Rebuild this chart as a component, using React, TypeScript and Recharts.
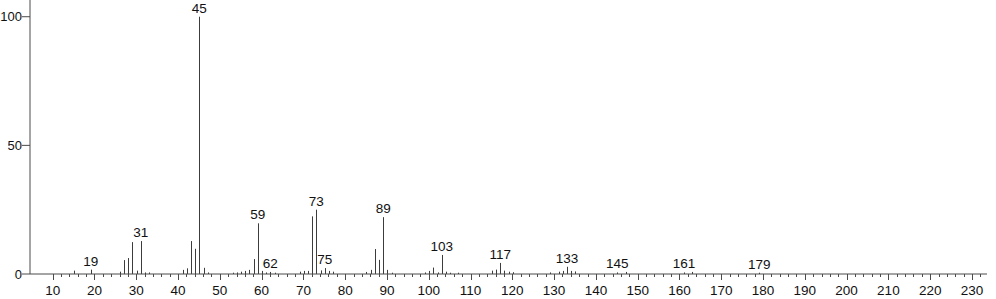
import { BarChart, Bar, XAxis, YAxis, LabelList } from 'recharts'

// m/z of each peak and its relative intensity (%)
const mz = [
  15, 19, 26, 27, 28, 29, 30, 31, 32, 33,
  41, 42, 43, 44, 45, 46, 47, 53, 54, 55,
  56, 57, 58, 59, 60, 61, 62, 63, 69, 70,
  71, 72, 73, 74, 75, 76, 77, 85, 86, 87,
  88, 89, 90, 91, 99, 100, 101, 102, 103, 104,
  105, 107, 115, 116, 117, 118, 119, 120, 129, 131,
  132, 133, 134, 135, 145, 147, 161, 163, 179,
]
const intensity = [
  1.3, 1.7, 0.9, 5.4, 6.2, 12.4, 1.3, 12.8, 0.6, 0.6,
  1.6, 2.2, 12.8, 9.8, 100, 2.4, 0.6, 0.5, 0.6, 0.9,
  1.2, 1.6, 5.8, 19.7, 1.2, 0.6, 0.8, 0.5, 0.9, 1.2,
  1.2, 22.4, 25.0, 1.4, 2.3, 1.2, 0.9, 0.8, 1.6, 9.7,
  5.5, 22.1, 1.6, 0.5, 0.6, 1.2, 2.5, 0.6, 7.4, 0.9,
  0.5, 0.5, 1.3, 1.7, 4.3, 1.3, 0.9, 0.7, 0.6, 0.9,
  1.2, 2.8, 1.2, 1.0, 0.6, 0.8, 0.6, 0.8, 0.5,
]
const labelled = [19, 31, 45, 59, 62, 73, 75, 89, 103, 117, 133, 145, 161, 179]

const majorTicks = [10, 20, 30, 40, 50, 60, 70, 80, 90, 100, 110, 120, 130, 140, 150, 160, 170, 180, 190, 200, 210, 220, 230]
const minorStep = 2
const yTicks = [0, 50, 100]

const data = mz.map((m, i) => ({ mz: m, value: intensity[i], label: labelled.includes(m) ? String(m) : '' }))
const allTicks: number[] = []
for (let t = majorTicks[0]; t <= majorTicks[majorTicks.length - 1] + minorStep; t += minorStep) allTicks.push(t)

const FONT = '"Liberation Sans", Arial, sans-serif'
const FS = 13.5
const AXIS = '#4a4a4a'

const Stick = (p: any) => {
  const cx = Math.round(p.x + p.width / 2) + 0.5
  return <line x1={cx} x2={cx} y1={p.y} y2={p.y + p.height} stroke="#3c3c3c" strokeWidth={1} />
}

const PeakLabel = (p: any) => {
  if (!p.value) return null
  return (
    <text x={p.x + p.width / 2} y={p.y - 4} textAnchor="middle" fontSize={FS} fontFamily={FONT} fill="#111">
      {p.value}
    </text>
  )
}

const XTick = (p: any) => {
  const v = p.payload.value
  const major = v % 10 === 0
  const x = Math.round(p.x) + 0.5
  return (
    <g>
      <line x1={x} x2={x} y1={p.y} y2={p.y + (major ? 6 : 3)} stroke={AXIS} strokeWidth={1} />
      {major && (
        <text x={p.x} y={p.y + 21} textAnchor="middle" fontSize={FS} fontFamily={FONT} fill="#111">
          {v}
        </text>
      )}
    </g>
  )
}

export default function App() {
  return (
    <div style={{ width: 996, height: 299 }}>
      <style>{'body{margin:0}'}</style>
      <BarChart width={996} height={299} data={data} margin={{ top: 0, right: 9, left: 0, bottom: 0 }} barSize={1}>
        <XAxis
          dataKey="mz"
          type="number"
          domain={[4.57, 233.6]}
          allowDataOverflow
          ticks={allTicks}
          interval={0}
          tick={<XTick />}
          tickLine={false}
          tickSize={0}
          tickMargin={0}
          height={25}
          axisLine={{ stroke: AXIS }}
        />
        <YAxis
          type="number"
          domain={[0, 106.5]}
          allowDataOverflow
          ticks={yTicks}
          interval={0}
          width={30}
          tickSize={8}
          tickMargin={0}
          tickLine={{ stroke: AXIS }}
          axisLine={{ stroke: AXIS }}
          tick={{ fontSize: 13, fontFamily: FONT, fill: '#111' }}
        />
        <Bar dataKey="value" shape={<Stick />} isAnimationActive={false}>
          <LabelList dataKey="label" content={<PeakLabel />} />
        </Bar>
      </BarChart>
    </div>
  )
}
